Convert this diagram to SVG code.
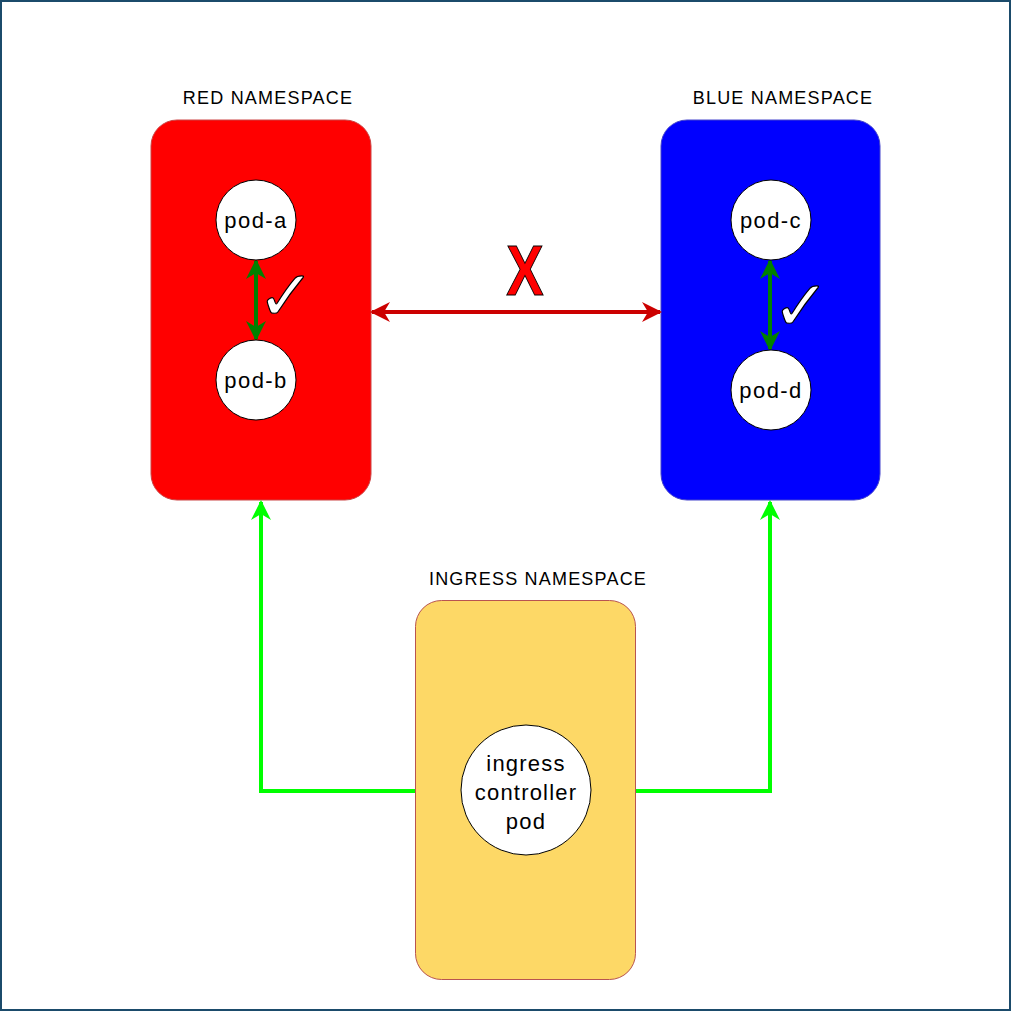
<svg xmlns="http://www.w3.org/2000/svg" width="1011" height="1011" viewBox="0 0 1011 1011">
<defs>
<style>
.lbl{font-family:"Liberation Sans",Arial,sans-serif;font-size:18px;letter-spacing:1.2px;fill:#000;text-anchor:middle}
.pod{fill:#fff;stroke:#000;stroke-width:1}
.pt{font-family:"Liberation Sans",Arial,sans-serif;font-size:22px;letter-spacing:1.4px;fill:#000;text-anchor:middle}
.it{font-family:"Liberation Sans",Arial,sans-serif;font-size:22px;letter-spacing:1.2px;fill:#000;text-anchor:middle}
.chk{font-family:"DejaVu Sans",sans-serif;font-size:70px;font-weight:bold;fill:#fff;stroke:#000;stroke-width:1.2;text-anchor:middle}
</style>
<marker id="gh" viewBox="0 0 10 10" refX="9" refY="5" markerWidth="5" markerHeight="5" orient="auto-start-reverse" markerUnits="strokeWidth"><path d="M0,0 L10,5 L0,10 L3,5 Z" fill="#008000"/></marker>
<marker id="rh" viewBox="0 0 10 10" refX="9" refY="5" markerWidth="5" markerHeight="5" orient="auto-start-reverse" markerUnits="strokeWidth"><path d="M0,0 L10,5 L0,10 L3,5 Z" fill="#cc0000"/></marker>
<marker id="lh" viewBox="0 0 10 10" refX="9" refY="5" markerWidth="5" markerHeight="5" orient="auto" markerUnits="strokeWidth"><path d="M0,0 L10,5 L0,10 L3,5 Z" fill="#00ff00"/></marker>
</defs>
<rect x="0" y="0" width="1011" height="1011" fill="#fff"/>
<rect x="1" y="1" width="1009" height="1009" fill="none" stroke="#1b4b6b" stroke-width="2"/>

<g id="red-ns">
<text class="lbl" x="268" y="104">RED NAMESPACE</text>
<rect x="151" y="120" width="220" height="380" rx="26" fill="#ff0000" stroke="#c44" stroke-width="1"/>
</g>
<g id="blue-ns">
<text class="lbl" x="783" y="104">BLUE NAMESPACE</text>
<rect x="661" y="120" width="219" height="380" rx="26" fill="#0000ff" stroke="#44c" stroke-width="1"/>
</g>
<g id="ingress-ns">
<text class="lbl" x="538" y="585">INGRESS NAMESPACE</text>
<rect x="415.5" y="600.5" width="220" height="379" rx="26" fill="#fdd866" stroke="#b85450" stroke-width="1"/>
</g>

<g id="connectors">
<line x1="256" y1="261" x2="256" y2="339" stroke="#008000" stroke-width="4" marker-start="url(#gh)" marker-end="url(#gh)"/>
<line x1="770" y1="261" x2="770" y2="349" stroke="#008000" stroke-width="4" marker-start="url(#gh)" marker-end="url(#gh)"/>
<line x1="372" y1="312" x2="660" y2="312" stroke="#cc0000" stroke-width="4" marker-start="url(#rh)" marker-end="url(#rh)"/>
<polyline points="415,791 261,791 261,502" fill="none" stroke="#00ff00" stroke-width="4" marker-end="url(#lh)"/>
<polyline points="636,791 770,791 770,502" fill="none" stroke="#00ff00" stroke-width="4" marker-end="url(#lh)"/>
</g>

<g id="check-red"><text class="chk" x="286" y="320">✓</text></g>
<g id="check-blue"><text class="chk" x="801" y="330">✓</text></g>
<g id="x-label"><text x="0" y="0" transform="translate(525,295) scale(0.8,1)" font-family="'Liberation Sans',Arial,sans-serif" font-weight="bold" font-size="70" fill="#ff0000" stroke="#000" stroke-width="1" text-anchor="middle">X</text></g>

<g id="pod-a"><circle class="pod" cx="256" cy="220" r="40"/><text class="pt" x="256" y="228">pod-a</text></g>
<g id="pod-b"><circle class="pod" cx="256" cy="380" r="40"/><text class="pt" x="256" y="388">pod-b</text></g>
<g id="pod-c"><circle class="pod" cx="771" cy="220" r="40"/><text class="pt" x="771" y="228">pod-c</text></g>
<g id="pod-d"><circle class="pod" cx="771" cy="390" r="40"/><text class="pt" x="771" y="398">pod-d</text></g>
<g id="ingress-pod"><circle class="pod" cx="526" cy="790" r="65"/>
<text class="it" x="526" y="771">ingress</text>
<text class="it" x="526" y="800">controller</text>
<text class="it" x="526" y="829">pod</text></g>
</svg>
